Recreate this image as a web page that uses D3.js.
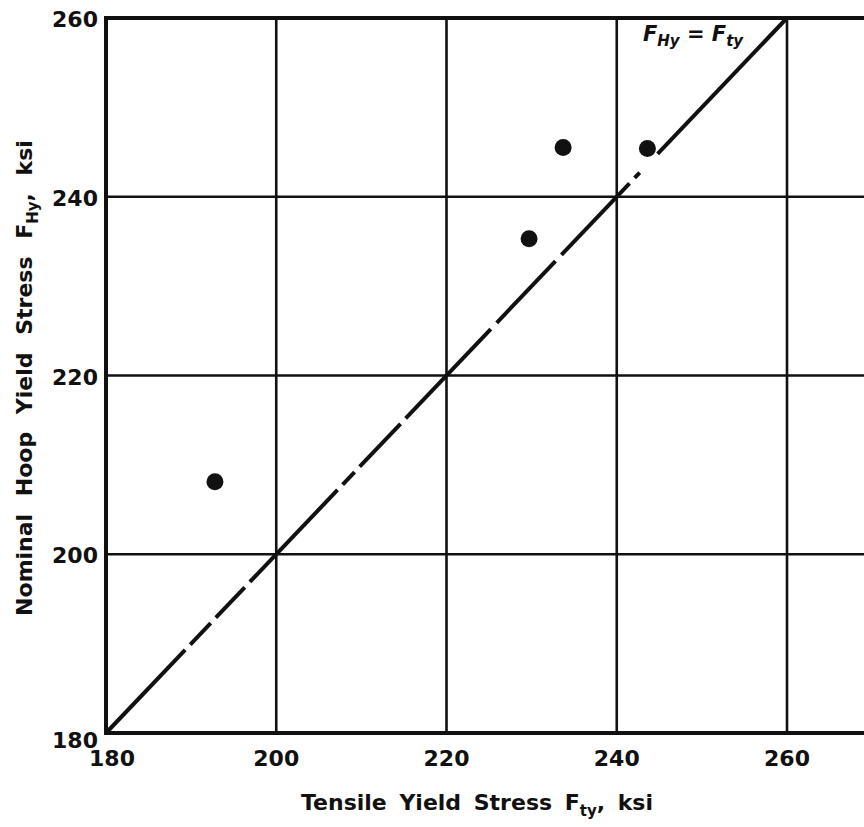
<!DOCTYPE html>
<html>
<head>
<meta charset="utf-8">
<script src="https://cdn.jsdelivr.net/npm/d3@7"></script>
<style>
  html, body { margin: 0; padding: 0; background: #fff; }
  svg { display: block; }
  text { font-family: "DejaVu Sans", "Liberation Sans", sans-serif; fill: #111; }
</style>
</head>
<body>
<svg id="chart" width="864" height="827"></svg>
<script>
// ---- data ----
const xTicks = [180, 200, 220, 240, 260];
const yTicks = [180, 200, 220, 240, 260];
const tensileYield = [192.8, 229.7, 233.7, 243.6];      // F_ty, ksi
const hoopYield    = [208.1, 235.3, 245.5, 245.4];      // F_Hy, ksi
// visible pieces of the F_Hy = F_ty reference line (x-ranges in ksi)
const equalityLinePieces = [
  [180, 189.3], [189.9, 192.3], [192.9, 196.3], [196.9, 207.2], [207.8, 209.2],
  [209.8, 214.6], [215.2, 225.2], [225.9, 232.8], [233.5, 241.5], [242.1, 242.7],
  [244.8, 260]
];
const xDomain = [180, 260];
const yDomain = [180, 260];

// ---- layout ----
const svg = d3.select("#chart");
const x = d3.scaleLinear().domain(xDomain).range([106, 787]);
const y = d3.scaleLinear().domain(yDomain).range([733, 18]);
const xRightEdge = 272; // plot continues past the right edge of the picture

// grid lines
const g = svg.append("g");
g.selectAll(".vgrid").data(xTicks.slice(1)).enter().append("line")
  .attr("x1", d => x(d)).attr("x2", d => x(d))
  .attr("y1", y(260)).attr("y2", y(180))
  .attr("stroke", "#111").attr("stroke-width", 2.6);
g.selectAll(".hgrid").data(yTicks.slice(1, -1)).enter().append("line")
  .attr("x1", x(180)).attr("x2", x(xRightEdge))
  .attr("y1", d => y(d)).attr("y2", d => y(d))
  .attr("stroke", "#111").attr("stroke-width", 2.6);

// frame: left, top, bottom
g.append("line").attr("x1", x(180)).attr("x2", x(180)).attr("y1", y(260) - 2).attr("y2", y(180) + 2)
  .attr("stroke", "#111").attr("stroke-width", 4);
g.append("line").attr("x1", x(180) - 2).attr("x2", x(xRightEdge)).attr("y1", y(260)).attr("y2", y(260))
  .attr("stroke", "#111").attr("stroke-width", 4);
g.append("line").attr("x1", x(180) - 2).attr("x2", x(xRightEdge)).attr("y1", y(180)).attr("y2", y(180))
  .attr("stroke", "#111").attr("stroke-width", 4);

// equality line pieces
g.selectAll(".eq").data(equalityLinePieces).enter().append("line")
  .attr("x1", d => x(d[0])).attr("y1", d => y(d[0]))
  .attr("x2", d => x(d[1])).attr("y2", d => y(d[1]))
  .attr("stroke", "#111").attr("stroke-width", 4).attr("stroke-linecap", "butt");

// data points
const pts = tensileYield.map((v, i) => ({ fx: v, fy: hoopYield[i] }));
g.selectAll(".pt").data(pts).enter().append("circle")
  .attr("cx", d => x(d.fx)).attr("cy", d => y(d.fy))
  .attr("r", 8.5).attr("fill", "#111");

// tick labels
g.selectAll(".xt").data(xTicks).enter().append("text")
  .attr("x", d => x(d) + (d === 180 ? 6 : 0)).attr("y", y(180) + 33)
  .attr("text-anchor", "middle").attr("font-size", 22).attr("font-weight", "bold")
  .text(d => d);
g.selectAll(".yt").data(yTicks).enter().append("text")
  .attr("x", x(180) - 8).attr("y", d => y(d) + (d === 180 ? 15 : 9))
  .attr("text-anchor", "end").attr("font-size", 22).attr("font-weight", "bold")
  .text(d => d);

// x-axis title
const xt = svg.append("text")
  .attr("x", 477).attr("y", 810).attr("text-anchor", "middle")
  .attr("font-size", 22).attr("font-weight", "bold").style("word-spacing", "5px");
xt.append("tspan").text("Tensile Yield Stress F");
xt.append("tspan").attr("font-size", 15).attr("dy", 6).text("ty");
xt.append("tspan").attr("dy", -6).text(", ksi");

// y-axis title
const yt = svg.append("text")
  .attr("transform", "translate(32,378) rotate(-90)")
  .attr("text-anchor", "middle").attr("font-size", 22).attr("font-weight", "bold")
  .style("word-spacing", "10px");
yt.append("tspan").text("Nominal Hoop Yield Stress F");
yt.append("tspan").attr("font-size", 15).attr("dy", 6).text("Hy");
yt.append("tspan").attr("dy", -6).text(", ksi");

// annotation
const an = svg.append("text")
  .attr("x", 693).attr("y", 41).attr("text-anchor", "middle")
  .attr("font-size", 21).attr("font-style", "italic").attr("font-weight", "bold");
an.append("tspan").text("F");
an.append("tspan").attr("font-size", 15).attr("dy", 5).text("Hy");
an.append("tspan").attr("dy", -5).text(" = F");
an.append("tspan").attr("font-size", 15).attr("dy", 5).text("ty");
</script>
</body>
</html>
